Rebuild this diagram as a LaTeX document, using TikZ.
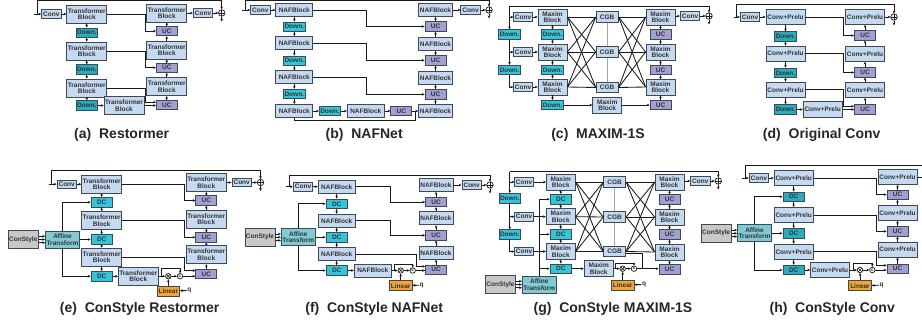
\documentclass[tikz,border=0pt]{standalone}
\usepackage{fontspec}
\setmainfont{Liberation Sans}
\usetikzlibrary{arrows.meta}
\definecolor{blu}{HTML}{C5D9F1}
\definecolor{bord}{HTML}{3E4856}
\definecolor{cya}{HTML}{33C6DA}
\definecolor{cyb}{HTML}{27ADBE}
\definecolor{lav}{HTML}{A0A0D2}
\definecolor{gry}{HTML}{C8C8C8}
\definecolor{aff}{HTML}{7FCAD3}
\definecolor{org}{HTML}{F2A531}
\definecolor{txt}{HTML}{333333}
\definecolor{lk}{HTML}{1A1A1A}
\tikzset{
 sBX/.style={draw=bord, line width=0.8pt, inner sep=0pt, align=center, font=\bfseries\fontsize{6.5}{6.4}\selectfont, text=txt},
 sTB/.style={sBX, fill=blu, minimum width=40pt, minimum height=18pt},
 sNB/.style={sBX, fill=blu, minimum width=37pt, minimum height=13pt},
 sNBR/.style={sNB, minimum width=34pt},
 sCP/.style={sBX, fill=blu, minimum width=39pt, minimum height=15pt},
 sMB/.style={sBX, fill=blu, minimum width=29pt, minimum height=16pt},
 sCV/.style={sBX, fill=blu, minimum width=19.5pt, minimum height=8.5pt},
 sCVs/.style={sCV, minimum width=18.5pt},
 sDN/.style={sBX, fill=cya, minimum width=21.5pt, minimum height=9.5pt},
 sDNb/.style={sDN, fill=cyb},
 sUC/.style={sBX, fill=lav, minimum width=21pt, minimum height=9.5pt},
 sCGB/.style={sBX, fill=blu, minimum width=22pt, minimum height=10.5pt},
 sCS/.style={sBX, fill=gry, minimum width=30pt, minimum height=18pt},
 sAF/.style={sBX, fill=aff, minimum width=34pt, minimum height=17pt},
 sLR/.style={sBX, fill=org, minimum width=22.5pt, minimum height=10pt},
 sQ/.style={inner sep=0.5pt, font=\bfseries\fontsize{6.5}{6.5}\selectfont, text=txt},
 sLN/.style={draw=lk, line width=0.85pt},
 sAR/.style={sLN, -{Stealth[length=2.8pt,width=2.6pt]}},
 sGL/.style={draw=gray!70, line width=1pt},
 sOP/.style={circle, draw=lk, fill=white, line width=0.7pt, minimum size=6.5pt, inner sep=0pt,
   path picture={\draw[lk, line width=0.6pt] (path picture bounding box.north) -- (path picture bounding box.south) (path picture bounding box.west) -- (path picture bounding box.east);}},
 sMU/.style={circle, draw=lk, fill=white, line width=0.7pt, minimum size=5.5pt, inner sep=0pt,
   path picture={\draw[lk, line width=0.6pt] (path picture bounding box.north west) -- (path picture bounding box.south east) (path picture bounding box.north east) -- (path picture bounding box.south west);}},
 sCT/.style={circle, draw=lk, fill=white, line width=0.7pt, minimum size=5.5pt, inner sep=0pt, font=\bfseries\fontsize{4.5}{4.5}\selectfont, text=lk},
 sLB/.style={inner sep=0pt, font=\bfseries\fontsize{14}{16}\selectfont, text=black!85},
}
\begin{document}
\begin{tikzpicture}[x=1pt,y=-1pt]
\useasboundingbox (0,0) rectangle (922,324);
\fill[white] (0,0) rectangle (922,324);

% ================= (a) Restormer =================
\coordinate (aIn) at (34,14);
\coordinate (aT) at (37.7,0.8);
\coordinate (ak) at (145.3,0);
\node[sCV] (ac0) at (51.3,14) {Conv};
\node[sTB] (a1) at (86.8,14) {Transformer\\Block};
\node[sDNb] (ad1) at (86.8,32.7) {Down.};
\node[sTB] (a2) at (86.8,51) {Transformer\\Block};
\node[sDNb] (ad2) at (86.8,69.5) {Down.};
\node[sTB] (a3) at (86.8,88) {Transformer\\Block};
\node[sDNb] (ad3) at (86.8,105.5) {Down.};
\node[sTB] (a4) at (124,105.5) {Transformer\\Block};
\node[sTB] (aR1) at (166.8,13) {Transformer\\Block};
\node[sUC] (au1) at (166.8,31) {UC};
\node[sTB] (aR2) at (166.8,50) {Transformer\\Block};
\node[sUC] (au2) at (166.8,67.7) {UC};
\node[sTB] (aR3) at (166.8,86.7) {Transformer\\Block};
\node[sUC] (au3) at (166.8,105) {UC};
\node[sCV] (ac9) at (203,13) {Conv};
\node[sOP] (ao) at (221.7,13) {};
\coordinate (aOut) at (221.7,21.5);
\draw[sAR] (aIn) -- (ac0);
\draw[sAR] (aT |- aIn) -- (aT) -| (ao.north);
\draw[sAR] (ac0) -- (a1);
\draw[sAR] (a1) -- (ad1); \draw[sAR] (ad1) -- (a2); \draw[sAR] (a2) -- (ad2);
\draw[sAR] (ad2) -- (a3); \draw[sAR] (a3) -- (ad3); \draw[sAR] (ad3) -- (a4);
\draw[sAR] (a1.east) -- (a1.east -| ak) |- (au1.west);
\draw[sAR] (a2.east) -- (a2.east -| ak) |- (au2.west);
\draw[sAR] (a3.east) -- (a3.east -| ak) |- (au3.165);
\draw[sAR] (a4.east) -- (a4.east -| au3.west);
\draw[sAR] (au1) -- (aR1); \draw[sAR] (aR2) -- (au1); \draw[sAR] (au2) -- (aR2);
\draw[sAR] (aR3) -- (au2); \draw[sAR] (au3) -- (aR3);
\draw[sAR] (aR1) -- (ac9); \draw[sAR] (ac9) -- (ao); \draw[sAR] (ao) -- (aOut);
\node[sLB] (la) at (121.7,135) {(a)~~Restormer};

% ================= (b) NAFNet =================
\coordinate (bIn) at (242,10);
\coordinate (bT) at (245,0.8);
\coordinate (bk) at (366.7,0);
\coordinate (bj) at (415,120.7);
\node[sCV] (bc0) at (260.3,10) {Conv};
\node[sNB] (b1) at (294.3,10) {NAFBlock};
\node[sDN] (bd1) at (294.3,26.7) {Down.};
\node[sNB] (b2) at (294.3,43) {NAFBlock};
\node[sDN] (bd2) at (294.3,60.7) {Down.};
\node[sNB] (b3) at (294.3,77.3) {NAFBlock};
\node[sDN] (bd3) at (294.3,94) {Down.};
\node[sNB] (b4) at (294.3,111) {NAFBlock};
\node[sDN] (bd4) at (330,111) {Down.};
\node[sNB] (b5) at (365.8,111) {NAFBlock};
\node[sUC] (bu4) at (401.3,111) {UC};
\node[sNBR] (bR4) at (435.5,111) {NAFBlock};
\node[sNBR] (bR1) at (435.5,10) {NAFBlock};
\node[sUC] (bu1) at (435.5,26.5) {UC};
\node[sNBR] (bR2) at (435.5,44) {NAFBlock};
\node[sUC] (bu2) at (435.5,60.3) {UC};
\node[sNBR] (bR3) at (435.5,77.8) {NAFBlock};
\node[sUC] (bu3) at (435.5,94.3) {UC};
\node[sCV] (bc9) at (470.5,10) {Conv};
\node[sOP] (bo) at (489,10) {};
\coordinate (bOut) at (489,18.5);
\draw[sAR] (bIn) -- (bc0);
\draw[sAR] (bT |- bIn) -- (bT) -| (bo.north);
\draw[sAR] (bc0) -- (b1);
\draw[sAR] (b1) -- (bd1); \draw[sAR] (bd1) -- (b2); \draw[sAR] (b2) -- (bd2);
\draw[sAR] (bd2) -- (b3); \draw[sAR] (b3) -- (bd3); \draw[sAR] (bd3) -- (b4);
\draw[sAR] (b4) -- (bd4); \draw[sAR] (bd4) -- (b5); \draw[sAR] (b5) -- (bu4); \draw[sAR] (bu4) -- (bR4);
\draw[sAR] (b1.east) -- (b1.east -| bk) |- (bu1.west);
\draw[sAR] (b2.east) -- (b2.east -| bk) |- (bu2.west);
\draw[sAR] (b3.east) -- (b3.east -| bk) |- (bu3.west);
\draw[sLN] (b4.south) |- (bj) -- (bj |- bR4.west);
\draw[sAR] (bu1) -- (bR1); \draw[sAR] (bR2) -- (bu1); \draw[sAR] (bu2) -- (bR2);
\draw[sAR] (bR3) -- (bu2); \draw[sAR] (bu3) -- (bR3); \draw[sAR] (bR4) -- (bu3);
\draw[sAR] (bR1) -- (bc9); \draw[sAR] (bc9) -- (bo); \draw[sAR] (bo) -- (bOut);
\node[sLB] (lb) at (364.2,135) {(b)~~NAFNet};

% ================= (c) MAXIM-1S =================
\coordinate (cT) at (509.5,6);
\node[sCVs] (cc1) at (523,17) {Conv};
\node[sDN] (cdL1) at (509.5,34.5) {Down.};
\node[sCVs] (cc2) at (523,52) {Conv};
\node[sDN] (cdL2) at (509.5,70) {Down.};
\node[sCVs] (cc3) at (523,87) {Conv};
\node[sMB] (cm1) at (552.5,17) {Maxim\\Block};
\node[sDN] (cdm1) at (552.5,34.5) {Down.};
\node[sMB] (cm2) at (552.5,52) {Maxim\\Block};
\node[sDN] (cdm2) at (552.5,70) {Down.};
\node[sMB] (cm3) at (552.5,87) {Maxim\\Block};
\node[sDN] (cdm3) at (552.5,105) {Down.};
\node[sCGB] (cg1) at (607.2,17) {CGB};
\node[sCGB] (cg2) at (607.2,52) {CGB};
\node[sCGB] (cg3) at (607.2,87.5) {CGB};
\node[sMB] (cmm) at (607.2,105) {Maxim\\Block};
\node[sMB] (cr1) at (660.5,17) {Maxim\\Block};
\node[sUC] (cu1) at (660.5,34.5) {UC};
\node[sMB] (cr2) at (660.5,52) {Maxim\\Block};
\node[sUC] (cu2) at (660.5,70) {UC};
\node[sMB] (cr3) at (660.5,87) {Maxim\\Block};
\node[sUC] (cu3) at (660.5,105) {UC};
\node[sCV] (cc9) at (690,16) {Conv};
\node[sOP] (co) at (709,16) {};
\coordinate (cOut) at (709,24.5);
\draw[sAR] (cT) -| (co.north);
\draw[sAR] (cT) -- (cdL1.north);
\draw[sAR] (cdL1 |- cc1) -- (cc1.west);
\draw[sAR] (cdL1) -- (cdL2);
\draw[sAR] (cdL1 |- cc2) -- (cc2.west);
\draw[sAR] (cdL2.south) |- (cc3.west);
\draw[sAR] (cc1) -- (cm1); \draw[sAR] (cc2) -- (cm2); \draw[sAR] (cc3) -- (cm3);
\draw[sAR] (cm1) -- (cdm1); \draw[sAR] (cdm1) -- (cm2); \draw[sAR] (cm2) -- (cdm2);
\draw[sAR] (cdm2) -- (cm3); \draw[sAR] (cm3) -- (cdm3);
\draw[sAR] (cdm3) -- (cmm); \draw[sAR] (cmm) -- (cu3);
\draw[sGL] (cg1.south) -- (cg2.north) (cg2.south) -- (cg3.north);
\foreach \i in {1,2,3}{\foreach \j in {1,2,3}{
  \draw[sLN] (cm\i.east) -- (cg\j.west);
  \draw[sLN] (cg\j.east) -- (cr\i.west);}}
\draw[sAR] (cu1) -- (cr1); \draw[sAR] (cr2) -- (cu1); \draw[sAR] (cu2) -- (cr2);
\draw[sAR] (cr3) -- (cu2); \draw[sAR] (cu3) -- (cr3);
\draw[sAR] (cr1.east |- cc9) -- (cc9.west); \draw[sAR] (cc9) -- (co); \draw[sAR] (co) -- (cOut);
\node[sLB] (lc) at (598,135) {(c)~~MAXIM-1S};

% ================= (d) Original Conv =================
\coordinate (dIn) at (733.5,17);
\coordinate (dT) at (736.7,4);
\coordinate (dk) at (843.8,0);
\node[sCV] (dc0) at (750,17) {Conv};
\node[sCP] (d1) at (785.5,17) {Conv+Prelu};
\node[sDNb] (dd1) at (785.5,36.5) {Down.};
\node[sCP] (d2) at (785.5,53.5) {Conv+Prelu};
\node[sDNb] (dd2) at (785.5,72.8) {Down.};
\node[sCP] (d3) at (785.5,89.7) {Conv+Prelu};
\node[sDNb] (dd3) at (785.5,109.5) {Down.};
\node[sCP, minimum height=16.5pt] (d4) at (822.7,109.5) {Conv+Prelu};
\node[sCP] (dR1) at (865,17) {Conv+Prelu};
\node[sUC] (du1) at (865,35.5) {UC};
\node[sCP] (dR2) at (865,53.8) {Conv+Prelu};
\node[sUC] (du2) at (865,72.5) {UC};
\node[sCP] (dR3) at (865,90) {Conv+Prelu};
\node[sUC] (du3) at (865,109.5) {UC};
\node[sOP] (do) at (894,17) {};
\coordinate (dOut) at (894,25.5);
\draw[sAR] (dIn) -- (dc0);
\draw[sAR] (dT |- dIn) -- (dT) -| (do.north);
\draw[sAR] (dc0) -- (d1);
\draw[sAR] (d1) -- (dd1); \draw[sAR] (dd1) -- (d2); \draw[sAR] (d2) -- (dd2);
\draw[sAR] (dd2) -- (d3); \draw[sAR] (d3) -- (dd3); \draw[sAR] (dd3) -- (d4);
\draw[sAR] (d1.east) -- (d1.east -| dk) |- (du1.west);
\draw[sAR] (d2.east) -- (d2.east -| dk) |- (du2.west);
\draw[sAR] (d3.east) -- (d3.east -| dk) |- (du3.163);
\draw[sAR] (d4.east) -- (d4.east -| du3.west);
\draw[sAR] (du1) -- (dR1); \draw[sAR] (dR2) -- (du1); \draw[sAR] (du2) -- (dR2);
\draw[sAR] (dR3) -- (du2); \draw[sAR] (du3) -- (dR3);
\draw[sAR] (dR1) -- (do); \draw[sAR] (do) -- (dOut);
\node[sLB] (ld) at (821.7,135) {(d)~~Original Conv};

% ================= (e) ConStyle Restormer =================
\coordinate (eIn) at (48.5,184.2);
\coordinate (eT) at (51.7,170.7);
\coordinate (ek) at (184.3,0);
\coordinate (eb) at (161.7,268.3);
\node[sCV] (ec0) at (66.7,184.2) {Conv};
\node[sTB] (e1) at (101.7,184.2) {Transformer\\Block};
\node[sDN] (edc1) at (101.7,202.2) {DC};
\node[sTB] (e2) at (101.7,220.8) {Transformer\\Block};
\node[sDN] (edc2) at (101.7,239.5) {DC};
\node[sTB] (e3) at (101.7,257.2) {Transformer\\Block};
\node[sDN] (edc3) at (101.7,276.2) {DC};
\node[sTB] (e4) at (138.3,276.2) {Transformer\\Block};
\node[sCS] (ecs) at (23.3,239.5) {ConStyle};
\node[sAF] (eaf) at (62.5,239.5) {Affine\\Transform};
\node[sTB] (eR1) at (206.3,182.5) {Transformer\\Block};
\node[sUC] (eu1) at (206.3,200.5) {UC};
\node[sTB] (eR2) at (206.3,219.2) {Transformer\\Block};
\node[sUC] (eu2) at (206.3,237.2) {UC};
\node[sTB] (eR3) at (206.3,254.7) {Transformer\\Block};
\node[sUC] (eu3) at (206.3,274) {UC};
\node[sCV] (ec9) at (241.7,182.5) {Conv};
\node[sOP] (eo) at (260.5,182.5) {};
\coordinate (eOut) at (260.5,191);
\node[sMU] (emul) at (168.3,276.2) {};
\node[sCT] (ecat) at (180,276.2) {c};
\node[sLR] (eln) at (168.3,291) {Linear};
\node[sQ] (eq) at (189.3,290.5) {q};
\draw[sAR] (eIn) -- (ec0);
\draw[sAR] (eT |- eIn) -- (eT) -| (eo.north);
\draw[sAR] (ec0) -- (e1);
\draw[sAR] (e1) -- (edc1); \draw[sAR] (edc1) -- (e2); \draw[sAR] (e2) -- (edc2);
\draw[sAR] (edc2) -- (e3); \draw[sAR] (e3) -- (edc3); \draw[sAR] (edc3) -- (e4);
\draw[sAR] (ecs.12) -- (ecs.12 -| eaf.west);
\draw[sAR] (ecs.east) -- (ecs.east -| eaf.west);
\draw[sAR] (ecs.-12) -- (ecs.-12 -| eaf.west);
\draw[sAR] (eaf) -- (edc2);
\draw[sAR] (eaf.north) |- (edc1.west);
\draw[sAR] (eaf.south) |- (edc3.west);
\draw[sAR] (e1.east) -- (e1.east -| ek) |- (eu1.west);
\draw[sAR] (e2.east) -- (e2.east -| ek) |- (eu2.west);
\draw[sAR] (e3.east) -- (e3.east -| ek) |- (eu3.163);
\draw[sAR] (e4) -- (emul); \draw[sAR] (emul) -- (ecat);
\draw[sAR] (ecat) -- (ecat -| eu3.west);
\draw[sAR] (eb |- e4) -- (eb) -| (ecat.north);
\draw[sAR] (eln) -- (emul); \draw[sAR] (eq) -- (eln);
\draw[sAR] (eu1) -- (eR1); \draw[sAR] (eR2) -- (eu1); \draw[sAR] (eu2) -- (eR2);
\draw[sAR] (eR3) -- (eu2); \draw[sAR] (eu3) -- (eR3);
\draw[sAR] (eR1) -- (ec9); \draw[sAR] (ec9) -- (eo); \draw[sAR] (eo) -- (eOut);
\node[sLB] (le) at (139.7,308.5) {(e)~~ConStyle Restormer};

% ================= (f) ConStyle NAFNet =================
\coordinate (fIn) at (286,186.7);
\coordinate (fT) at (289.3,175);
\coordinate (fk) at (390,0);
\coordinate (fk3) at (416.7,0);
\coordinate (fb) at (394,264.3);
\node[sCV] (fc0) at (303,186.7) {Conv};
\node[sNB] (f1) at (336.7,186.7) {NAFBlock};
\node[sDN] (fdc1) at (336.7,203.8) {DC};
\node[sNB] (f2) at (336.7,220.7) {NAFBlock};
\node[sDN] (fdc2) at (336.7,237.2) {DC};
\node[sNB] (f3) at (336.7,254) {NAFBlock};
\node[sDN] (fdc3) at (336.7,270.5) {DC};
\node[sNB] (f4) at (372.8,270.5) {NAFBlock};
\node[sCS] (fcs) at (260,237.2) {ConStyle};
\node[sAF] (faf) at (298.3,237.2) {Affine\\Transform};
\node[sNBR] (fR1) at (436,185) {NAFBlock};
\node[sUC] (fu1) at (436,202) {UC};
\node[sNBR] (fR2) at (436,218.3) {NAFBlock};
\node[sUC] (fu2) at (436,235.3) {UC};
\node[sNBR] (fR3) at (436,252.7) {NAFBlock};
\node[sUC] (fu3) at (436,269.7) {UC};
\node[sCV] (fc9) at (471.7,185) {Conv};
\node[sOP] (fo) at (490,185) {};
\coordinate (fOut) at (490,193.5);
\node[sMU] (fmul) at (400.7,270.5) {};
\node[sCT] (fcat) at (412.7,270.5) {c};
\node[sLR] (fln) at (400.7,285.7) {Linear};
\node[sQ] (fq) at (421.7,285.2) {q};
\draw[sAR] (fIn) -- (fc0);
\draw[sAR] (fT |- fIn) -- (fT) -| (fo.north);
\draw[sAR] (fc0) -- (f1);
\draw[sAR] (f1) -- (fdc1); \draw[sAR] (fdc1) -- (f2); \draw[sAR] (f2) -- (fdc2);
\draw[sAR] (fdc2) -- (f3); \draw[sAR] (f3) -- (fdc3); \draw[sAR] (fdc3) -- (f4);
\draw[sAR] (fcs.12) -- (fcs.12 -| faf.west);
\draw[sAR] (fcs.east) -- (fcs.east -| faf.west);
\draw[sAR] (fcs.-12) -- (fcs.-12 -| faf.west);
\draw[sAR] (faf) -- (fdc2);
\draw[sAR] (faf.north) |- (fdc1.west);
\draw[sAR] (faf.south) |- (fdc3.west);
\draw[sAR] (f1.east) -- (f1.east -| fk) |- (fu1.west);
\draw[sAR] (f2.east) -- (f2.east -| fk) |- (fu2.west);
\draw[sAR] (f3.east) -- (f3.east -| fk3) |- (fu3.163);
\draw[sAR] (f4) -- (fmul); \draw[sAR] (fmul) -- (fcat);
\draw[sAR] (fcat) -- (fcat -| fu3.west);
\draw[sAR] (fb |- f4) -- (fb) -| (fcat.north);
\draw[sAR] (fln) -- (fmul); \draw[sAR] (fq) -- (fln);
\draw[sAR] (fu1) -- (fR1); \draw[sAR] (fR2) -- (fu1); \draw[sAR] (fu2) -- (fR2);
\draw[sAR] (fR3) -- (fu2); \draw[sAR] (fu3) -- (fR3);
\draw[sAR] (fR1) -- (fc9); \draw[sAR] (fc9) -- (fo); \draw[sAR] (fo) -- (fOut);
\node[sLB] (lf) at (374.2,308.5) {(f)~~ConStyle NAFNet};

% ================= (g) ConStyle MAXIM-1S =================
\coordinate (gT) at (509.8,171.7);
\coordinate (gb) at (615.7,263.3);
\coordinate (gk) at (642.7,253.3);
\node[sDN] (gdL1) at (509.8,198.3) {Down.};
\node[sDN] (gdL2) at (509.8,234.5) {Down.};
\node[sCVs] (gc1) at (524,182) {Conv};
\node[sCVs] (gc2) at (524,216.7) {Conv};
\node[sCVs] (gc3) at (524,251.5) {Conv};
\node[sMB] (gm1) at (560.8,182) {Maxim\\Block};
\node[sDN] (gdc1) at (560.8,199.2) {DC};
\node[sMB] (gm2) at (560.8,216.7) {Maxim\\Block};
\node[sDN] (gdc2) at (560.8,234.2) {DC};
\node[sMB] (gm3) at (560.8,251.5) {Maxim\\Block};
\node[sDN] (gdc3) at (560.8,268.7) {DC};
\node[sCGB] (gg1) at (614.7,182) {CGB};
\node[sCGB] (gg2) at (614.7,217) {CGB};
\node[sCGB] (gg3) at (614.7,251.5) {CGB};
\node[sMB] (gmm) at (598.7,268.7) {Maxim\\Block};
\node[sMB] (gr1) at (669.5,182) {Maxim\\Block};
\node[sUC] (gu1) at (669.5,199.2) {UC};
\node[sMB] (gr2) at (669.5,217) {Maxim\\Block};
\node[sUC] (gu2) at (669.5,234.5) {UC};
\node[sMB] (gr3) at (669.5,252) {Maxim\\Block};
\node[sUC] (gu3) at (669.5,269.5) {UC};
\node[sCV] (gc9) at (700.3,181) {Conv};
\node[sOP] (go) at (718.3,181) {};
\coordinate (gOut) at (718.3,189.5);
\node[sCS] (gcs) at (500.5,284.5) {ConStyle};
\node[sAF] (gaf) at (539.3,284.5) {Affine\\Transform};
\node[sMU] (gmul) at (622.7,268.7) {};
\node[sCT] (gcat) at (634,268.7) {c};
\node[sLR] (gln) at (622.7,285) {Linear};
\node[sQ] (gq) at (644,284.5) {q};
\draw[sAR] (gT) -| (go.north);
\draw[sAR] (gT) -- (gdL1.north);
\draw[sAR] (gdL1 |- gc1) -- (gc1.west);
\draw[sAR] (gdL1) -- (gdL2);
\draw[sAR] (gdL1 |- gc2) -- (gc2.west);
\draw[sAR] (gdL2.south) |- (gc3.west);
\draw[sAR] (gc1) -- (gm1); \draw[sAR] (gc2) -- (gm2); \draw[sAR] (gc3) -- (gm3);
\draw[sAR] (gm1) -- (gdc1); \draw[sAR] (gdc1) -- (gm2); \draw[sAR] (gm2) -- (gdc2);
\draw[sAR] (gdc2) -- (gm3); \draw[sAR] (gm3) -- (gdc3);
\draw[sAR] (gcs.12) -- (gcs.12 -| gaf.west);
\draw[sAR] (gcs.east) -- (gcs.east -| gaf.west);
\draw[sAR] (gcs.-12) -- (gcs.-12 -| gaf.west);
\draw[sAR] (gaf.north) |- (gdc1.west);
\draw[sAR] (gaf.north |- gdc2) -- (gdc2.west);
\draw[sAR] (gaf.north |- gdc3) -- (gdc3.west);
\draw[sGL] (gg1.south) -- (gg2.north) (gg2.south) -- (gg3.north);
\foreach \i in {1,2,3}{\foreach \j in {1,2,3}{
  \draw[sLN] (gm\i.east) -- (gg\j.west);
  \draw[sLN] (gg\j.east) -- (gr\i.west);}}
\draw[sAR] (gdc3) -- (gmm); \draw[sAR] (gmm) -- (gmul); \draw[sAR] (gmul) -- (gcat);
\draw[sAR] (gcat) -- (gcat -| gu3.west);
\draw[sAR] (gb |- gmm) -- (gb) -| (gcat.north);
\draw[sLN] (gg3.east |- gk) -- (gk) -- (gk |- gcat);
\draw[sAR] (gln) -- (gmul); \draw[sAR] (gq) -- (gln);
\draw[sAR] (gu1) -- (gr1); \draw[sAR] (gr2) -- (gu1); \draw[sAR] (gu2) -- (gr2);
\draw[sAR] (gr3) -- (gu2); \draw[sAR] (gu3) -- (gr3);
\draw[sAR] (gr1.east |- gc9) -- (gc9.west); \draw[sAR] (gc9) -- (go); \draw[sAR] (go) -- (gOut);
\node[sLB] (lg) at (613,308.5) {(g)~~ConStyle MAXIM-1S};

% ================= (h) ConStyle Conv =================
\coordinate (hIn) at (742,178);
\coordinate (hT) at (745,165);
\coordinate (hE) at (922,165);
\coordinate (hR) at (922,177);
\coordinate (hk) at (876.3,0);
\coordinate (hb) at (853.3,263.3);
\node[sCV] (hc0) at (758.8,178) {Conv};
\node[sCP] (h1) at (793.7,178) {Conv+Prelu};
\node[sDNb] (hdc1) at (793.7,196.7) {DC};
\node[sCP] (h2) at (793.7,215) {Conv+Prelu};
\node[sDNb] (hdc2) at (793.7,233.3) {DC};
\node[sCP] (h3) at (793.7,251.7) {Conv+Prelu};
\node[sDNb] (hdc3) at (793.7,270) {DC};
\node[sCP] (h4) at (830,270) {Conv+Prelu};
\node[sCS] (hcs) at (716.2,233.3) {ConStyle};
\node[sAF] (haf) at (754.5,233.3) {Affine\\Transform};
\node[sCP] (hR1) at (897.5,177) {Conv+Prelu};
\node[sUC] (hu1) at (897.5,194.7) {UC};
\node[sCP] (hR2) at (897.5,212.8) {Conv+Prelu};
\node[sUC] (hu2) at (897.5,231.3) {UC};
\node[sCP] (hR3) at (897.5,249.5) {Conv+Prelu};
\node[sUC] (hu3) at (897.5,268.7) {UC};
\node[sMU] (hmul) at (860,270) {};
\node[sCT] (hcat) at (872.3,270) {c};
\node[sLR] (hln) at (860,285.7) {Linear};
\node[sQ] (hq) at (881.7,285.2) {q};
\draw[sAR] (hIn) -- (hc0);
\draw[sLN] (hT |- hIn) -- (hT) -- (hE);
\draw[sLN] (hR1) -- (hR);
\draw[sAR] (hc0) -- (h1);
\draw[sAR] (h1) -- (hdc1); \draw[sAR] (hdc1) -- (h2); \draw[sAR] (h2) -- (hdc2);
\draw[sAR] (hdc2) -- (h3); \draw[sAR] (h3) -- (hdc3); \draw[sAR] (hdc3) -- (h4);
\draw[sAR] (hcs.12) -- (hcs.12 -| haf.west);
\draw[sAR] (hcs.east) -- (hcs.east -| haf.west);
\draw[sAR] (hcs.-12) -- (hcs.-12 -| haf.west);
\draw[sAR] (haf) -- (hdc2);
\draw[sAR] (haf.north) |- (hdc1.west);
\draw[sAR] (haf.south) |- (hdc3.west);
\draw[sAR] (h1.east) -- (h1.east -| hk) |- (hu1.west);
\draw[sAR] (h2.east) -- (h2.east -| hk) |- (hu2.west);
\draw[sAR] (h3.east) -- (h3.east -| hk) |- (hu3.163);
\draw[sAR] (h4) -- (hmul); \draw[sAR] (hmul) -- (hcat);
\draw[sAR] (hcat) -- (hcat -| hu3.west);
\draw[sAR] (hb |- h4) -- (hb) -| (hcat.north);
\draw[sAR] (hln) -- (hmul); \draw[sAR] (hq) -- (hln);
\draw[sAR] (hu1) -- (hR1); \draw[sAR] (hR2) -- (hu1); \draw[sAR] (hu2) -- (hR2);
\draw[sAR] (hR3) -- (hu2); \draw[sAR] (hu3) -- (hR3);
\node[sLB] (lh) at (832.2,308.5) {(h)~~ConStyle Conv};
\end{tikzpicture}
\end{document}
